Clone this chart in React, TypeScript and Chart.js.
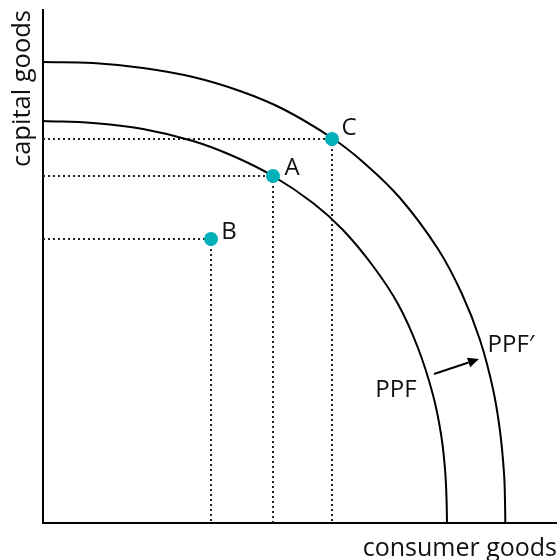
import React, { useEffect, useRef } from "react";
import { Chart, registerables } from "chart.js";

Chart.register(...registerables);

// Axis extents (data units)
const xMax = 514;
const yMax = 513;

// PPF (inner curve)
const ppfX = [0, 50, 100, 150, 190, 230, 270, 300, 330, 355, 375, 390, 398, 402, 403.5, 404];
const ppfY = [402, 400, 394, 382, 367, 347, 320, 293, 257, 219, 175, 128, 89, 54, 25, 0];

// PPF' (outer curve)
const ppf2X = [0, 50, 100, 150, 197, 240, 289, 320, 357, 395, 419, 437, 450, 457, 461, 462, 462.3];
const ppf2Y = [461, 460, 455, 446, 432, 414, 385, 361, 325, 274, 229, 183, 134, 92, 50, 22, 0];

// Points A, B, C
const pointNames = ["A", "B", "C"];
const pointX = [230, 168, 289];
const pointY = [347, 284, 384];

// Free labels
const labelTexts = ["A", "B", "C", "PPF", "PPF\u2032"];
const labelX = [249, 186, 306, 353, 468];
const labelY = [355, 291, 395, 133, 178];

// Arrow (from -> to)
const arrowFrom = [391, 149];
const arrowTo = [436, 164];

const TEAL = "#00B0BA";
const FONT = "'Open Sans', sans-serif";

const annotationPlugin = {
  id: "annotations",
  afterDatasetsDraw(chart: any) {
    const { ctx, scales } = chart;
    const xs = scales.x;
    const ys = scales.y;
    ctx.save();
    // arrow
    const x1 = xs.getPixelForValue(arrowFrom[0]);
    const y1 = ys.getPixelForValue(arrowFrom[1]);
    const x2 = xs.getPixelForValue(arrowTo[0]);
    const y2 = ys.getPixelForValue(arrowTo[1]);
    const ang = Math.atan2(y2 - y1, x2 - x1);
    const head = 11;
    const bx = x2 - head * Math.cos(ang);
    const by = y2 - head * Math.sin(ang);
    ctx.strokeStyle = "#000";
    ctx.lineWidth = 2;
    ctx.beginPath();
    ctx.moveTo(x1, y1);
    ctx.lineTo(bx, by);
    ctx.stroke();
    ctx.fillStyle = "#000";
    ctx.beginPath();
    ctx.moveTo(x2, y2);
    ctx.lineTo(bx + 5 * Math.sin(ang), by - 5 * Math.cos(ang));
    ctx.lineTo(bx - 5 * Math.sin(ang), by + 5 * Math.cos(ang));
    ctx.closePath();
    ctx.fill();
    // labels
    ctx.fillStyle = "#111";
    ctx.font = `24px ${FONT}`;
    ctx.textAlign = "center";
    ctx.textBaseline = "middle";
    for (let i = 0; i < labelTexts.length; i++) {
      ctx.fillText(labelTexts[i], xs.getPixelForValue(labelX[i]), ys.getPixelForValue(labelY[i]));
    }
    ctx.restore();
  },
};

export default function App() {
  const ref = useRef<HTMLCanvasElement | null>(null);
  useEffect(() => {
    if (!ref.current) return;
    const dotted = {
      borderColor: "#222",
      borderWidth: 2,
      borderDash: [2, 3],
      pointRadius: 0,
      showLine: true,
      fill: false,
      tension: 0,
    };
    const guideSets: any[] = [];
    for (let i = 0; i < pointX.length; i++) {
      guideSets.push({
        ...dotted,
        label: `h-${pointNames[i]}`,
        data: [
          { x: 0, y: pointY[i] },
          { x: pointX[i], y: pointY[i] },
        ],
      });
      guideSets.push({
        ...dotted,
        label: `v-${pointNames[i]}`,
        data: [
          { x: pointX[i], y: pointY[i] },
          { x: pointX[i], y: 0 },
        ],
      });
    }
    const curve = {
      borderColor: "#000",
      borderWidth: 2,
      pointRadius: 0,
      showLine: true,
      tension: 0.4,
      fill: false,
    };
    const chart = new Chart(ref.current, {
      type: "scatter",
      data: {
        datasets: [
          {
            label: "points",
            data: pointX.map((x, i) => ({ x, y: pointY[i] })),
            backgroundColor: TEAL,
            borderColor: TEAL,
            pointRadius: 7,
            borderWidth: 0,
            showLine: false,
          },
          { ...curve, label: "PPF", data: ppfX.map((x, i) => ({ x, y: ppfY[i] })) },
          { ...curve, label: "PPF'", data: ppf2X.map((x, i) => ({ x, y: ppf2Y[i] })) },
          ...guideSets,
        ],
      },
      options: {
        responsive: false,
        animation: false,
        layout: { autoPadding: false, padding: { top: 10, right: 0, left: 0, bottom: 0 } },
        plugins: {
          legend: { display: false },
          tooltip: { enabled: false },
        },
        scales: {
          x: {
            type: "linear",
            min: 0,
            max: xMax,
            grid: { display: false, drawTicks: false },
            ticks: { display: false },
            border: { display: true, color: "#000", width: 2 },
            title: {
              display: true,
              text: "consumer goods",
              align: "end",
              color: "#111",
              font: { family: FONT, size: 25, lineHeight: 0.9 },
              padding: { top: 14.5, bottom: 0 },
            },
          },
          y: {
            type: "linear",
            min: 0,
            max: yMax,
            grid: { display: false, drawTicks: false },
            ticks: { display: false },
            border: { display: true, color: "#000", width: 2 },
            title: {
              display: true,
              text: "capital goods",
              align: "end",
              color: "#111",
              font: { family: FONT, size: 25.5, lineHeight: 0.9 },
              padding: { top: 11.5, bottom: 8.55 },
            },
          },
        },
      },
      plugins: [annotationPlugin],
    });
    return () => chart.destroy();
  }, []);
  return (
    <div style={{ position: "absolute", left: 0, top: 0, width: 557, height: 560, background: "#fff" }}>
      <canvas ref={ref} width={557} height={560} style={{ display: "block" }} />
    </div>
  );
}
